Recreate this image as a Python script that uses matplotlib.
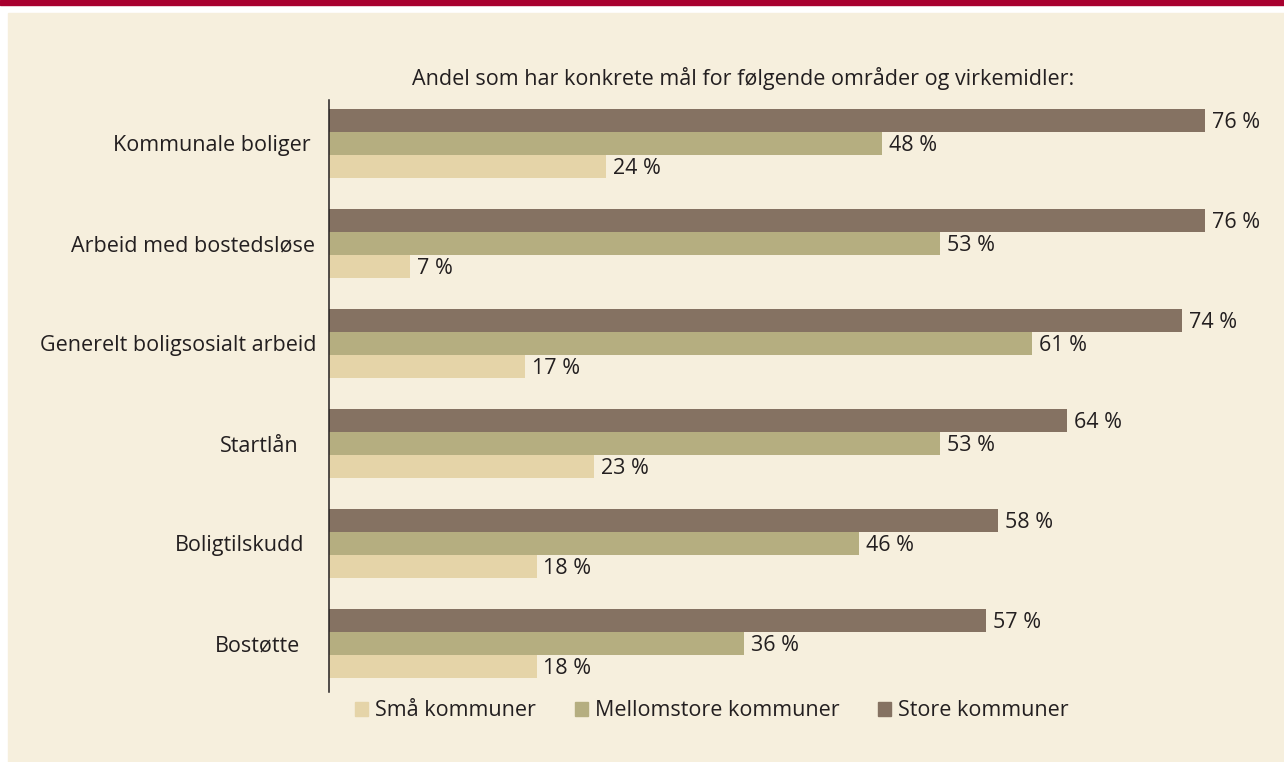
import matplotlib
matplotlib.use('Agg')
import matplotlib.pyplot as plt
import matplotlib.transforms as mtransforms
from matplotlib.patches import Rectangle, Patch

categories = ['Kommunale boliger', 'Arbeid med bostedsløse', 'Generelt boligsosialt arbeid',
              'Startlån', 'Boligtilskudd', 'Bostøtte']
store = [76, 76, 74, 64, 58, 57]
mellom = [48, 53, 61, 53, 46, 36]
smaa = [24, 7, 17, 23, 18, 18]
series_names = ['Små kommuner', 'Mellomstore kommuner', 'Store kommuner']
title = 'Andel som har konkrete mål for følgende områder og virkemidler:'

c_store = '#857262'
c_mellom = '#b5ae80'
c_smaa = '#e5d4a8'
bg = '#f6efdd'
red = '#a8002f'
txt = '#231f20'

plt.rcParams['font.family'] = ['Open Sans', 'DejaVu Sans']
fs = 15.5

W, H = 1284, 762
fig = plt.figure(figsize=(W / 100, H / 100), dpi=100)
fig.patch.set_facecolor('white')
fig.add_artist(Rectangle((0, 1 - 5 / H), 1, 5 / H, transform=fig.transFigure, color=red, zorder=0))
fig.add_artist(Rectangle((8 / W, 0), 1, 1 - 13 / H, transform=fig.transFigure, color=bg, zorder=0))

px_per_unit = 11.53
left, top, bottom = 329, 100, 692
ax = fig.add_axes([left / W, 1 - bottom / H, (W - left) / W, (bottom - top) / H])
ax.set_facecolor('none')

bh = 0.23
ypos = list(range(len(categories)))
for vals, off, col in [(store, -bh, c_store), (mellom, 0, c_mellom), (smaa, bh, c_smaa)]:
    ys = [y + off for y in ypos]
    ax.barh(ys, vals, height=bh, color=col, linewidth=0)
    for y, v in zip(ys, vals):
        ax.text(v + 0.6, y + 0.02, f'{v} %', va='center', ha='left', fontsize=fs, color=txt)

ax.set_xlim(0, (W - left) / px_per_unit)
ax.set_ylim(5.485, -0.435)
ax.set_yticks(ypos)
ax.set_yticklabels(categories, fontsize=fs, color=txt)
ax.tick_params(axis='y', length=0, pad=0)
# category labels in the original are not quite aligned; gap to axis in px
label_gap = [18, 14, 12, 30, 25, 29]
for lab, g in zip(ax.get_yticklabels(), label_gap):
    lab.set_transform(lab.get_transform() + mtransforms.ScaledTranslation(-g / 100, 0, fig.dpi_scale_trans))
ax.set_xticks([])
for s in ['top', 'right', 'bottom']:
    ax.spines[s].set_visible(False)
ax.spines['left'].set_color(txt)
ax.spines['left'].set_linewidth(1.1)

fig.text(743 / W, 1 - 78 / H, title, ha='center', va='center', fontsize=fs, color=txt)

handles = [Patch(color=c_smaa), Patch(color=c_mellom), Patch(color=c_store)]
fig.legend(handles, series_names, loc='center left', bbox_to_anchor=(355 / W, 1 - 711 / H),
           ncol=3, frameon=False, fontsize=fs, handlelength=0.6, handleheight=0.6,
           handletextpad=0.33, columnspacing=1.8, borderpad=0, borderaxespad=0,
           labelcolor=txt)

fig.savefig('out.png', dpi=100, facecolor=fig.get_facecolor())
